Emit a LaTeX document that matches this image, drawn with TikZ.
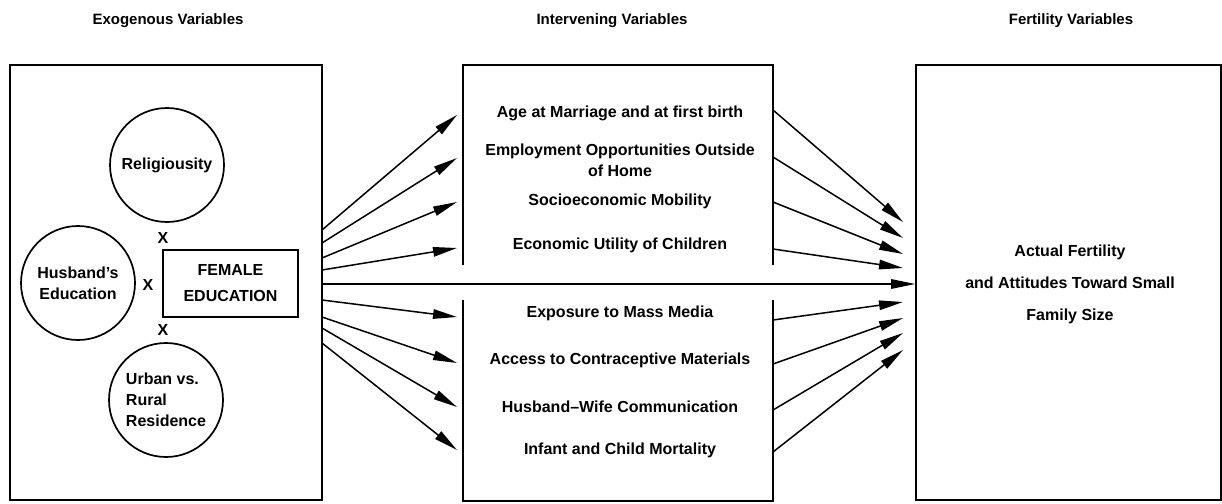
\documentclass[tikz,border=0pt]{standalone}
\usepackage{fontspec}
\setmainfont{Liberation Sans}
\usetikzlibrary{arrows.meta,positioning}
\tikzset{
  box/.style={draw,line width=1.7pt,inner sep=0pt},
  circ/.style={draw,circle,line width=1.7pt,minimum size=114pt,inner sep=0pt,align=center},
  txt/.style={font=\fontsize{16}{21}\selectfont\bfseries,align=center},
  head/.style={font=\fontsize{15}{18}\selectfont\bfseries},
  arr/.style={line width=1.5pt,-{Triangle[length=24pt,width=9.5pt]}}
}
\begin{document}
\begin{tikzpicture}[x=1pt,y=-1pt]
\useasboundingbox (0,0) rectangle (1222,503);
% headers
\node[head] (hexo) at (168,21) {Exogenous Variables};
\node[head] (hint) at (612,21) {Intervening Variables};
\node[head] (hfer) at (1071,21) {Fertility Variables};
% boxes
\node[box,minimum width=312pt,minimum height=435pt] (exo) at (166,282.5) {};
\node[minimum width=310pt,minimum height=200pt,inner sep=0pt] (intup) at (618,165) {};
\node[minimum width=310pt,minimum height=201pt,inner sep=0pt] (intlo) at (618,400.5) {};
\draw[line width=1.7pt] (intup.south west) -- (intup.north west) -- (intup.north east) -- (intup.south east);
\draw[line width=1.7pt] (intlo.north west) -- (intlo.south west) -- (intlo.south east) -- (intlo.north east);
\node[box,minimum width=305pt,minimum height=435pt] (fer) at (1068.5,282.5) {};
% exogenous
\node[circ,txt] (rel) at (167,165) {Religiousity};
\node[circ,txt] (hus) at (78,283) {Husband's\\Education};
\node[circ,txt,align=left] (urb) at (166,400) {Urban vs.\\Rural\\Residence};
\node[box,minimum width=135pt,minimum height=67pt,txt,font=\fontsize{16}{26}\selectfont\bfseries] (fem) at (230.5,283.5) {FEMALE\\EDUCATION};
\node[txt] (x1) at (163,238) {X};
\node[txt] (x2) at (148,285) {X};
\node[txt] (x3) at (163,330) {X};
% intervening
\node[txt] (age) at (620,113) {Age at Marriage and at first birth};
\node[txt] (emp) at (620,160) {Employment Opportunities Outside\\of Home};
\node[txt] (soc) at (620,201) {Socioeconomic Mobility};
\node[txt] (eco) at (620,245) {Economic Utility of Children};
\node[txt] (exp) at (620,313) {Exposure to Mass Media};
\node[txt] (acc) at (620,360) {Access to Contraceptive Materials};
\node[txt] (hwc) at (620,407) {Husband--Wife Communication};
\node[txt] (inf) at (620,450) {Infant and Child Mortality};
% fertility
\node[txt,font=\fontsize{16}{32}\selectfont\bfseries] (act) at (1070,284) {Actual Fertility\\and Attitudes Toward Small\\Family Size};
% arrows
\foreach \i/\ys/\ye in {1/230/115,2/243/158,3/258/202,4/270/248,5/300/317,6/317/363,7/328/407,8/343/450}{
  \coordinate (a\i) at (322,\ys);
  \coordinate (b\i) at (457,\ye);
  \path[arr] (a\i) edge (b\i);
}
\foreach \i/\ys/\ye in {1/110/222,2/157/238,3/202/254,4/249/268,5/320/302,6/364/318,7/410/333,8/452/350}{
  \coordinate (c\i) at (773,\ys);
  \coordinate (d\i) at (903,\ye);
  \path[arr] (c\i) edge (d\i);
}
\coordinate (m1) at (322,284);
\path[arr] (m1) edge (fer.west |- m1);
\end{tikzpicture}
\end{document}
